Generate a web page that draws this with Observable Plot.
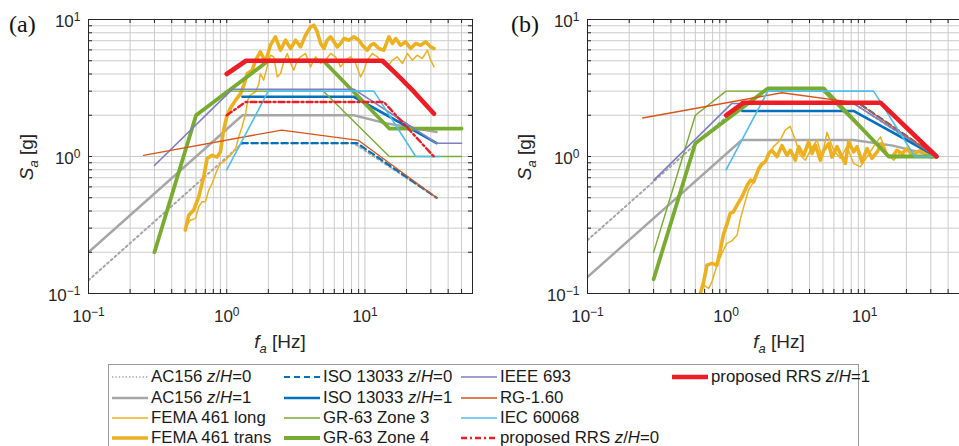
<!DOCTYPE html>
<html><head><meta charset="utf-8">
<script src="https://cdn.jsdelivr.net/npm/d3@7"></script>
<script src="https://cdn.jsdelivr.net/npm/@observablehq/plot@0.6"></script>
<style>
html,body{margin:0;padding:0;background:#fff;}
#root{position:relative;width:959px;height:446px;overflow:hidden;font-family:"Liberation Sans",Arial,sans-serif;color:#262626;background:#fff;}
.abs{position:absolute;}
.plab{font-family:"Liberation Serif","Times New Roman",serif;font-size:24px;color:#111;}
.ylab{font-size:19px;white-space:nowrap;transform:rotate(-90deg);transform-origin:center center;text-align:center;width:120px;height:22px;line-height:22px;}
.xlab{font-size:19px;white-space:nowrap;text-align:center;width:120px;height:22px;line-height:22px;}
.leg{font-size:16.8px;color:#1a1a1a;white-space:nowrap;line-height:18px;}
</style></head><body><div id="root"></div>
<script>
// ---------------- data (frequency Hz, Sa g) ----------------
const legendNames = ["AC156 z/H=0","AC156 z/H=1","FEMA 461 long","FEMA 461 trans","ISO 13033 z/H=0","ISO 13033 z/H=1","GR-63 Zone 3","GR-63 Zone 4","IEEE 693","RG-1.60","IEC 60068","proposed RRS z/H=0","proposed RRS z/H=1"];
const xTickValues = [0.1, 1, 10];
const yTickValues = [0.1, 1, 10];
const xGridValues = [0.1,0.2,0.3,0.4,0.5,0.6,0.7,0.8,0.9,1,2,3,4,5,6,7,8,9,10,20,30,40,50,60];
const yGridValues = [0.1,0.2,0.3,0.4,0.5,0.6,0.7,0.8,0.9,1,2,3,4,5,6,7,8,9,10];

// panel (a)
const ac156_0_a = [[0.1,0.125],[1.3,1.25],[8.3,1.25],[33,0.5]];
const ac156_1_a = [[0.1,0.2],[1.3,2.0],[8.3,2.0],[14.5,1.74],[33,1.51]];
const femaLong_a = [[0.516,0.315],[0.546,0.343],[0.593,0.352],[0.627,0.429],[0.662,0.467],[0.701,0.467],[0.741,0.568],[0.784,0.635],[0.851,0.794],[0.90,0.889],[0.951,0.914],[1.03,0.993],[1.09,1.05],[1.16,1.14],[1.22,1.39],[1.29,1.64],[1.37,2.06],[1.42,2.58],[1.48,2.8],[1.62,2.97],[1.71,3.41],[1.75,4.04],[1.85,3.61],[1.96,4.51],[2.07,5.49],[2.19,5.34],[2.32,3.81],[2.45,4.04],[2.59,4.91],[2.74,5.65],[2.9,4.78],[3.06,4.27],[3.24,5.05],[3.42,5.34],[3.72,5.65],[4.04,4.51],[4.39,5.34],[4.78,4.78],[5.19,5.05],[5.64,5.65],[6.13,5.34],[6.67,4.51],[7.25,5.05],[7.88,5.34],[8.56,4.78],[9.31,3.81],[9.84,4.27],[10.4,5.05],[11.3,5.65],[12.3,5.34],[13.4,4.78],[14.5,4.51],[15.8,5.05],[17.1,5.34],[18.7,4.78],[20.3,5.65],[22.0,5.05],[23.9,5.49],[26.0,5.19],[28.3,5.97],[29.9,5.05],[31.6,4.51]];
const femaTrans_a = [[0.502,0.29],[0.531,0.373],[0.577,0.406],[0.627,0.507],[0.682,0.71],[0.721,0.966],[0.784,1.02],[0.851,0.99],[0.90,1.08],[0.95,1.56],[1.0,1.95],[1.06,2.24],[1.16,2.58],[1.26,2.88],[1.33,3.32],[1.41,4.04],[1.53,4.27],[1.62,5.05],[1.75,5.81],[1.91,4.91],[2.07,6.5],[2.25,7.47],[2.45,5.97],[2.66,7.06],[2.9,6.14],[3.15,7.06],[3.42,6.31],[3.72,7.69],[4.04,8.83],[4.27,9.08],[4.52,8.12],[4.78,6.68],[5.05,6.14],[5.33,7.06],[5.64,7.47],[5.97,6.87],[6.31,6.31],[6.67,6.68],[7.05,7.26],[7.66,7.06],[8.32,7.47],[9.05,7.06],[9.57,6.49],[10.4,5.97],[11.0,6.49],[11.6,6.68],[12.6,6.14],[13.7,5.97],[14.9,7.47],[15.8,6.68],[16.7,7.26],[18.1,6.49],[19.7,6.87],[21.4,6.14],[23.3,6.68],[25.3,6.49],[27.5,6.87],[29.9,6.31],[31.6,6.14]];
const iso_0_a = [[1.28,1.25],[8.8,1.25],[33,0.5]];
const iso_1_a = [[1.3,2.73],[8.3,2.73],[33,1.25]];
const gr3_a = [[0.3,0.2],[0.6,2.0],[1.0,3.0],[5.0,3.0],[15,1.0],[50,1.0]];
const gr4_a = [[0.3,0.2],[0.6,2.0],[2.0,5.0],[5.0,5.0],[15,1.6],[50,1.6]];
const ieee_a = [[0.3,0.86],[1.1,3.1],[8.3,3.1],[33,1.25],[50,1.25]];
const rg_a = [[0.25,1.02],[2.5,1.56],[9,1.31],[33,0.5]];
const iec_a = [[1.0,0.8],[2.0,3.0],[11.6,3.0],[23.3,1.0],[35,1.0]];
const prop_0_a = [[1.0,2.0],[1.37,2.5],[13.7,2.5],[31.5,1.0]];
const prop_1_a = [[1.0,4.0],[1.38,5.0],[13.4,5.0],[17.2,3.92],[22.7,2.96],[31.6,2.05]];

// panel (b)
const ac156_0_b = [[0.1,0.245],[1.3,2.45],[8.3,2.45],[33,0.98]];
const ac156_1_b = [[0.1,0.132],[1.3,1.32],[8.3,1.32],[16,1.2],[33,1.0]];
const femaLong_b = [[0.652,0.1],[0.689,0.115],[0.748,0.109],[0.791,0.122],[0.859,0.161],[0.933,0.196],[1.01,0.232],[1.1,0.242],[1.2,0.267],[1.27,0.352],[1.34,0.429],[1.45,0.568],[1.58,0.653],[1.72,0.794],[1.87,0.889],[2.03,1.02],[2.2,1.18],[2.46,1.32],[2.67,1.56],[2.9,1.66],[3.16,1.32],[3.43,1.02],[3.73,0.94],[4.05,1.11],[4.53,1.32],[4.92,0.99],[5.35,1.5],[5.97,1.11],[6.67,0.97],[7.45,1.18],[8.33,0.89],[9.3,0.84],[10.4,0.99],[11.6,1.18],[13.0,1.39],[14.5,1.05],[16.2,0.94],[18.1,1.08],[20.2,0.99],[22.6,1.05],[25.2,1.11],[28.2,0.99],[30.6,1.02]];
const femaTrans_b = [[0.652,0.1],[0.689,0.122],[0.728,0.161],[0.791,0.166],[0.859,0.161],[0.908,0.207],[0.96,0.274],[1.01,0.315],[1.07,0.384],[1.13,0.394],[1.2,0.442],[1.3,0.507],[1.42,0.618],[1.5,0.672],[1.58,0.653],[1.72,0.817],[1.82,0.889],[1.92,0.914],[2.03,1.05],[2.14,1.11],[2.33,1.0],[2.53,1.2],[2.75,1.02],[2.91,1.11],[3.16,0.94],[3.34,1.18],[3.63,1.02],[3.94,1.28],[4.17,1.05],[4.41,1.21],[4.79,0.94],[5.06,1.11],[5.5,1.24],[5.81,0.99],[6.32,1.18],[6.67,1.05],[7.25,0.89],[7.67,1.28],[8.33,1.08],[8.81,1.18],[9.57,0.91],[10.4,1.14],[11.3,0.97],[12.3,1.08],[13.3,1.24],[14.5,1.02],[15.8,0.99],[17.1,1.11],[18.6,1.05],[20.2,1.14],[22.0,1.02],[23.9,1.08],[25.9,1.11],[28.2,1.05],[30.6,0.99],[31.6,1.02]];
const iso_0_b = [[1.3,2.5],[8.8,2.5],[33,1.0]];
const iso_1_b = [[1.31,2.15],[8.3,2.15],[33,1.0]];
const gr3_b = [[0.3,0.2],[0.6,2.0],[1.0,3.0],[5.0,3.0],[15,1.0],[33,1.0]];
const gr4_b = [[0.3,0.127],[0.6,1.25],[2.0,3.14],[5.06,3.14],[14.9,1.0],[33,1.0]];
const ieee_b = [[0.3,0.67],[1.1,2.44],[8.3,2.44],[33,1.0]];
const rg_b = [[0.25,1.91],[2.53,2.92],[9,2.45],[33,1.0]];
const iec_b = [[1.0,0.8],[2.0,3.0],[11.6,3.0],[23,1.0],[33,1.0]];
const prop_0_b = [[1.0,2.0],[1.34,2.47],[13,2.47],[33,1.0]];
const prop_1_b = [[1.0,2.0],[1.34,2.47],[13,2.47],[33,1.0]];

// ---------------- styles ----------------
const GRAY = "#a6a6a6", YEL = "#EDB120", BLUE = "#0072BD", GREEN = "#77AC30", PURP = "#7E7EC0", ORG = "#D95319", CYAN = "#4DBEEE", RED = "#EE1C24";
const styles = [
  {stroke: GRAY, strokeWidth: 2, strokeDasharray: "2,3"},
  {stroke: GRAY, strokeWidth: 2.4},
  {stroke: YEL, strokeWidth: 1.5},
  {stroke: YEL, strokeWidth: 3.6},
  {stroke: BLUE, strokeWidth: 2.2, strokeDasharray: "6,4"},
  {stroke: BLUE, strokeWidth: 2.6},
  {stroke: GREEN, strokeWidth: 1.4},
  {stroke: GREEN, strokeWidth: 3.8},
  {stroke: PURP, strokeWidth: 1.6},
  {stroke: ORG, strokeWidth: 1.3},
  {stroke: CYAN, strokeWidth: 1.6},
  {stroke: RED, strokeWidth: 2.4, strokeDasharray: "6,3,2,3"},
  {stroke: RED, strokeWidth: 4.6}
];
const legendStyles = styles.map((s, i) => i === 0 ? {...s, strokeWidth: 1.4, strokeDasharray: "1.4,2"} : s);
const seriesA = [ac156_0_a, ac156_1_a, femaLong_a, femaTrans_a, iso_0_a, iso_1_a, gr3_a, gr4_a, ieee_a, rg_a, iec_a, prop_0_a, prop_1_a];
const seriesB = [ac156_0_b, ac156_1_b, femaLong_b, femaTrans_b, iso_0_b, iso_1_b, gr3_b, gr4_b, ieee_b, rg_b, iec_b, prop_0_b, prop_1_b];

const root = document.getElementById("root");
const AXC = "#262626";
const GRIDC = "#cbcbcb";
const TICKPX = 4;
const DECPX = 137;

function panel(series, {width, marginLeft, marginRight}) {
  const kY = Math.pow(10, TICKPX / DECPX);
  const kX = Math.pow(10, TICKPX / ((width - marginLeft - marginRight) / Math.log10(600)));
  const xin = xGridValues.slice(1, -1);
  const yin = yGridValues.slice(1, -1);
  const marks = [
    Plot.gridX({ticks: xGridValues, stroke: GRIDC, strokeOpacity: 1}),
    Plot.gridY({ticks: yGridValues, stroke: GRIDC, strokeOpacity: 1}),
    ...series.map((s, i) => Plot.line(s, {x: d => d[0], y: d => d[1], ...styles[i], strokeLinejoin: "round", clip: true})),
    Plot.ruleX(xin, {x: d => d, y1: 0.1, y2: 0.1 * kY, stroke: AXC}),
    Plot.ruleX(xin, {x: d => d, y1: 10, y2: 10 / kY, stroke: AXC}),
    Plot.ruleY(yin, {y: d => d, x1: 0.1, x2: 0.1 * kX, stroke: AXC}),
    Plot.ruleY(yin, {y: d => d, x1: 60, x2: 60 / kX, stroke: AXC}),
    Plot.frame({stroke: AXC, strokeWidth: 1}),
    Plot.axisX({ticks: xTickValues, tickFormat: d => String(Math.round(Math.log10(d))), tickSize: 0, tickPadding: 16, label: null, fontSize: 17, fill: AXC}),
    Plot.axisY({ticks: yTickValues, tickFormat: d => String(Math.round(Math.log10(d))), tickSize: 0, tickPadding: 8, dy: 2, label: null, fontSize: 17, fill: AXC})
  ];
  const svg = Plot.plot({
    width, height: 340, marginLeft, marginRight, marginTop: 19, marginBottom: 47,
    x: {type: "log", domain: [0.1, 60]},
    y: {type: "log", domain: [0.1, 10]},
    style: {fontFamily: "Liberation Sans, Arial, sans-serif", background: "transparent", overflow: "visible"},
    marks
  });
  // turn exponent labels into 10^n with a superscript
  svg.querySelectorAll('g[aria-label$="tick label"] text').forEach(t => {
    const e = Math.round(+t.textContent);
    t.textContent = "";
    t.appendChild(document.createTextNode("10"));
    const ts = document.createElementNS("http://www.w3.org/2000/svg", "tspan");
    ts.setAttribute("dy", "-0.5em");
    ts.setAttribute("font-size", "12");
    ts.textContent = e < 0 ? "\u2212" + (-e) : String(e);
    t.appendChild(ts);
  });
  return svg;
}

function place(el, left, top) {
  el.classList.add("abs");
  el.style.left = left + "px";
  el.style.top = top + "px";
  root.appendChild(el);
  return el;
}
function html(tag, cls, inner) {
  const e = document.createElement(tag);
  if (cls) e.className = cls;
  e.innerHTML = inner;
  return e;
}

place(panel(seriesA, {width: 480, marginLeft: 88, marginRight: 8}), 0, 0);
place(panel(seriesB, {width: 500, marginLeft: 107, marginRight: 8}), 480, 0);

place(html("div", "plab", "(a)"), 9, 11);
place(html("div", "plab", "(b)"), 511, 11);
const sub = "<sub style='font-size:13px'><i>a</i></sub>";
place(html("div", "ylab", "<i>S</i>" + sub + " [g]"), 27 - 60, 157 - 11);
place(html("div", "ylab", "<i>S</i>" + sub + " [g]"), 525 - 60, 157 - 11);
place(html("div", "xlab", "<i>f</i>" + sub + " [Hz]"), 280 - 60, 331);
place(html("div", "xlab", "<i>f</i>" + sub + " [Hz]"), 779 - 60, 331);

// legend
const box = document.createElement("div");
box.style.cssText = "width:751px;height:120px;border:1px solid #9a9a9a;background:#fff;box-sizing:border-box;";
place(box, 108, 364);
const colX = [112, 284, 461, 672];
const rowY = [377, 398, 418, 438];
legendNames.forEach((name, i) => {
  const col = Math.floor(i / 4), row = i % 4;
  const st = legendStyles[i];
  const sw = document.createElementNS("http://www.w3.org/2000/svg", "svg");
  sw.setAttribute("width", 36); sw.setAttribute("height", 10);
  const ln = document.createElementNS("http://www.w3.org/2000/svg", "line");
  ln.setAttribute("x1", 0); ln.setAttribute("x2", 36); ln.setAttribute("y1", 5); ln.setAttribute("y2", 5);
  ln.setAttribute("stroke", st.stroke); ln.setAttribute("stroke-width", st.strokeWidth);
  if (st.strokeDasharray) ln.setAttribute("stroke-dasharray", st.strokeDasharray);
  sw.appendChild(ln);
  place(sw, colX[col], rowY[row] - 5);
  const label = name.replace("z/H", "<i>z</i>/<i>H</i>");
  place(html("div", "leg", label), colX[col] + 39, rowY[row] - 9);
});
</script>
</body></html>
